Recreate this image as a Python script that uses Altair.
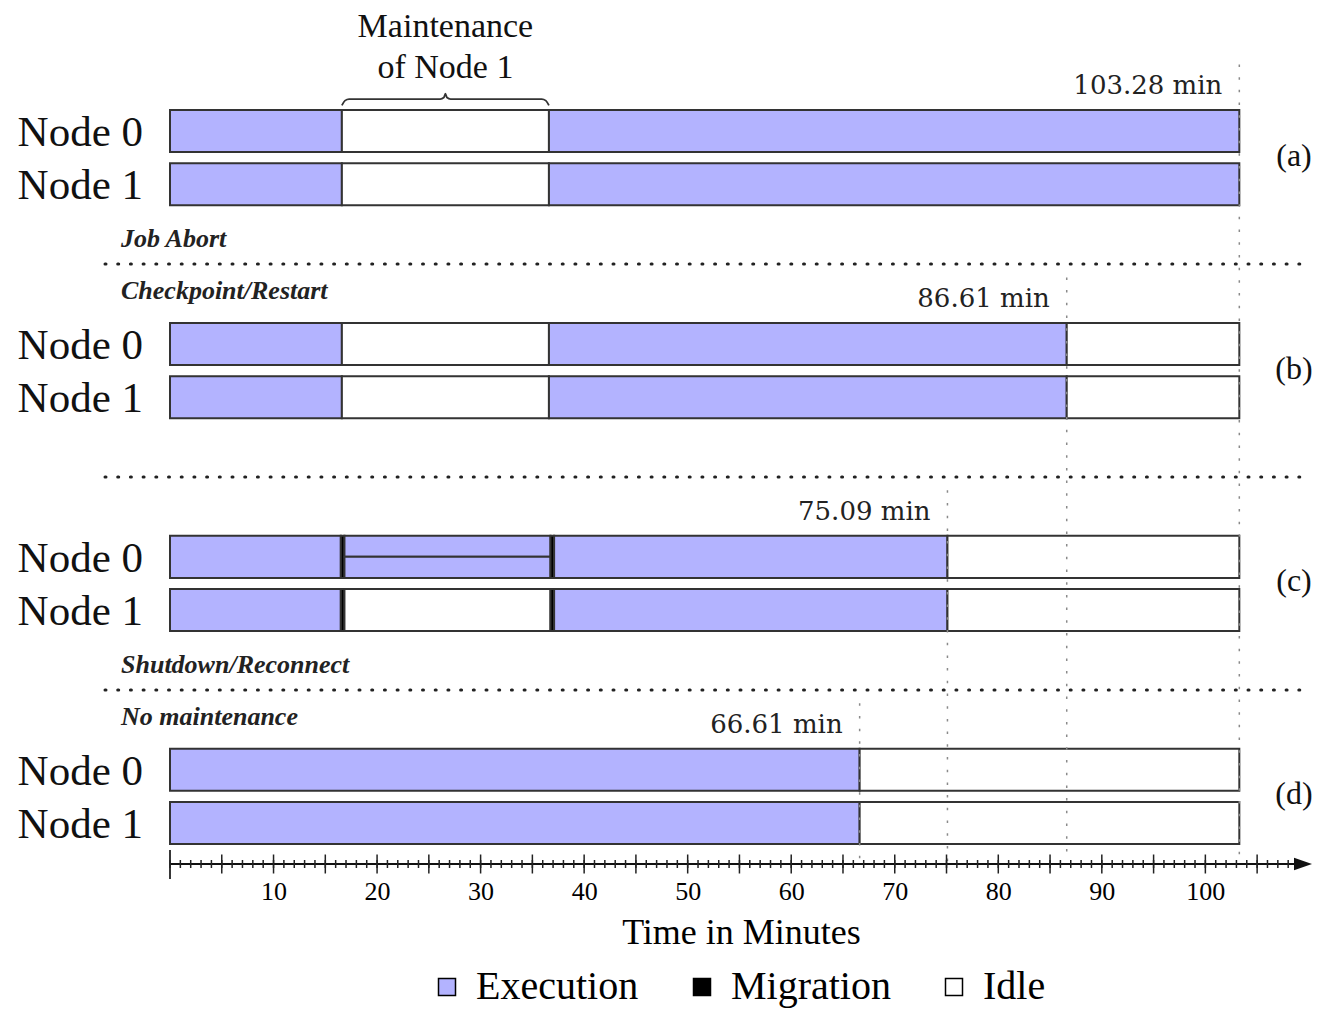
import altair as alt
import pandas as pd

# ---------------- data ----------------
panels = ["(a)", "(b)", "(c)", "(d)"]
methods = ["Job Abort", "Checkpoint/Restart", "Shutdown/Reconnect", "No maintenance"]
method_side = ["below", "above", "below", "above"]
totals = [103.28, 86.61, 75.09, 66.61]
total_labels = ["103.28 min", "86.61 min", "75.09 min", "66.61 min"]
nodes = ["Node 0", "Node 1"]
maint_start = 16.6
maint_end = 36.6
maint_text = ["Maintenance", "of Node 1"]
states = ["Execution", "Migration", "Idle"]
state_colors = ["#b3b3ff", "#000000", "#ffffff"]
x_labels = [10, 20, 30, 40, 50, 60, 70, 80, 90, 100]
x_max = 110.3
minor_ticks = list(range(0, 109))
major_ticks = list(range(5, 109, 5))

seg_a0 = [(0, 16.6, "Execution", "full"), (16.6, 36.6, "Idle", "full"), (36.6, 103.28, "Execution", "full")]
seg_a1 = [(0, 16.6, "Execution", "full"), (16.6, 36.6, "Idle", "full"), (36.6, 103.28, "Execution", "full")]
seg_b0 = [(0, 16.6, "Execution", "full"), (16.6, 36.6, "Idle", "full"), (36.6, 86.61, "Execution", "full"), (86.61, 103.28, "Idle", "full")]
seg_b1 = [(0, 16.6, "Execution", "full"), (16.6, 36.6, "Idle", "full"), (36.6, 86.61, "Execution", "full"), (86.61, 103.28, "Idle", "full")]
seg_c0 = [(0, 16.5, "Execution", "full"), (16.5, 16.85, "Migration", "full"), (16.85, 36.75, "Execution", "top"),
          (16.85, 36.75, "Execution", "bottom"), (36.75, 37.1, "Migration", "full"), (37.1, 75.09, "Execution", "full"),
          (75.09, 103.28, "Idle", "full")]
seg_c1 = [(0, 16.5, "Execution", "full"), (16.5, 16.85, "Migration", "full"), (16.85, 36.75, "Idle", "full"),
          (36.75, 37.1, "Migration", "full"), (37.1, 75.09, "Execution", "full"), (75.09, 103.28, "Idle", "full")]
seg_d0 = [(0, 66.61, "Execution", "full"), (66.61, 103.28, "Idle", "full")]
seg_d1 = [(0, 66.61, "Execution", "full"), (66.61, 103.28, "Idle", "full")]
segments = [[seg_a0, seg_a1], [seg_b0, seg_b1], [seg_c0, seg_c1], [seg_d0, seg_d1]]

# ---------------- layout (row slots) ----------------
SLOTS = 4          # rows per panel (2 nodes + gap)
HALF = 0.395       # half bar height in slot units
Y_TOP = -2.2356
AXIS_SLOT = 13.77
W, H = 1142, 852

rows = []
for p, pan in enumerate(segments):
    for n, segs in enumerate(pan):
        slot = p * SLOTS + n
        for (s, e, st, part) in segs:
            y0 = slot - HALF if part in ("full", "top") else slot
            y1 = slot + HALF if part in ("full", "bottom") else slot
            rows.append(dict(start=s, end=e, state=st, y0=y0, y1=y1))
bars_df = pd.DataFrame(rows)

node_df = pd.DataFrame([dict(label=nodes[n], slot=p * SLOTS + n) for p in range(4) for n in range(2)])
panel_df = pd.DataFrame([dict(label=panels[p], slot=p * SLOTS + 0.5) for p in range(4)])
tot_df = pd.DataFrame([dict(t=totals[p], label=total_labels[p], ylab=p * SLOTS - 0.85,
                            ytop=p * SLOTS - 1.25) for p in range(4)])
sep_df = pd.DataFrame([dict(y=p * SLOTS + 2.5) for p in range(3)])
meth_df = pd.DataFrame([dict(label=methods[p],
                             y=(p * SLOTS + 1 + 1.035) if method_side[p] == "below" else (p * SLOTS - 1.0))
                        for p in range(4)])
mid = (maint_start + maint_end) / 2
brace_df = pd.DataFrame(dict(
    x=[maint_start, maint_start + 0.3, maint_start + 0.7, mid - 0.5, mid - 0.15, mid, mid + 0.15, mid + 0.5,
       maint_end - 0.7, maint_end - 0.3, maint_end],
    y=[-0.48, -0.57, -0.6, -0.6, -0.63, -0.7, -0.63, -0.6, -0.6, -0.57, -0.48], o=list(range(11))))
mtext_df = pd.DataFrame(dict(x=[mid, mid], y=[-1.95, -1.18], label=maint_text))
minor_df = pd.DataFrame(dict(x=minor_ticks))
major_df = pd.DataFrame(dict(x=major_ticks))
zero_df = pd.DataFrame(dict(x=[0]))

SERIF = "Liberation Serif"
xscale = alt.Scale(domain=[0, x_max], nice=False, zero=False)
yscale = alt.Scale(domain=[Y_TOP, AXIS_SLOT], reverse=True, nice=False, zero=False)

bars = alt.Chart(bars_df).mark_bar(stroke="#333333", strokeWidth=2).encode(
    x=alt.X("start:Q", scale=xscale, axis=alt.Axis(
        values=x_labels, domain=False, ticks=False, grid=False, tickSize=0,
        labelFont=SERIF, labelFontSize=26, labelColor="black", labelPadding=14, labelFlush=False,
        title="Time in Minutes", titleFont=SERIF, titleFontSize=36, titleFontWeight="normal",
        titleColor="black", titlePadding=11)),
    x2="end:Q",
    y=alt.Y("y0:Q", scale=yscale, axis=None),
    y2="y1:Q",
    color=alt.Color("state:N", scale=alt.Scale(domain=states, range=state_colors), legend=alt.Legend(
        orient="none", legendX=257, legendY=955, direction="horizontal", columns=3, title=None,
        symbolType="square", symbolSize=289, symbolStrokeColor="black", symbolStrokeWidth=1.5,
        symbolOpacity=1, labelFont=SERIF, labelFontSize=40, labelColor="black", labelOffset=9,
        columnPadding=43, labelLimit=400)),
)

vlines = alt.Chart(tot_df).mark_rule(color="#8a8a8a", strokeWidth=1.5, strokeDash=[2.5, 10.2]).encode(
    x=alt.X("t:Q", scale=xscale), y=alt.Y("ytop:Q", scale=yscale), y2=alt.value(H - 3))
tlabels = alt.Chart(tot_df).mark_text(font="DejaVu Serif", fontSize=26, align="right", baseline="middle",
                                      dx=-17, color="#222").encode(
    x=alt.X("t:Q", scale=xscale), y=alt.Y("ylab:Q", scale=yscale), text="label:N")

seps = alt.Chart(sep_df).mark_rule(color="#222", strokeWidth=3, strokeDash=[1, 11.7], strokeCap="round").encode(
    x=alt.value(-65), x2=alt.value(1130), y=alt.Y("y:Q", scale=yscale))
meth = alt.Chart(meth_df).mark_text(font=SERIF, fontSize=26, fontStyle="italic", fontWeight="bold",
                                    align="left", baseline="middle", color="#222").encode(
    x=alt.value(-49), y=alt.Y("y:Q", scale=yscale), text="label:N")

nlab = alt.Chart(node_df).mark_text(font=SERIF, fontSize=43, align="right", baseline="middle",
                                    dy=2, color="#111").encode(
    x=alt.value(-27), y=alt.Y("slot:Q", scale=yscale), text="label:N")
plab = alt.Chart(panel_df).mark_text(font=SERIF, fontSize=32, align="center", baseline="middle",
                                     dy=-2, color="#111").encode(
    x=alt.value(1124), y=alt.Y("slot:Q", scale=yscale), text="label:N")

brace = alt.Chart(brace_df).mark_line(color="#333", strokeWidth=1.8, interpolate="monotone").encode(
    x=alt.X("x:Q", scale=xscale), y=alt.Y("y:Q", scale=yscale), order="o:Q")
mtext = alt.Chart(mtext_df).mark_text(font=SERIF, fontSize=34, align="center", baseline="middle",
                                      color="#111").encode(
    x=alt.X("x:Q", scale=xscale), y=alt.Y("y:Q", scale=yscale), text="label:N")

axis_line = alt.Chart(zero_df).mark_rule(color="#111", strokeWidth=1.8).encode(
    x=alt.value(0), x2=alt.value(1126), y=alt.value(H))
arrow = alt.Chart(zero_df).mark_point(shape="M-1,-0.7L1,0L-1,0.7Z", filled=True, size=324, color="#111",
                                      opacity=1).encode(
    x=alt.value(1133), y=alt.value(H))
minor = alt.Chart(minor_df).mark_rule(color="#222", strokeWidth=1.5).encode(
    x=alt.X("x:Q", scale=xscale), y=alt.value(H - 4), y2=alt.value(H + 4))
major = alt.Chart(major_df).mark_rule(color="#222", strokeWidth=1.5).encode(
    x=alt.X("x:Q", scale=xscale), y=alt.value(H - 9.5), y2=alt.value(H + 9.5))
zero = alt.Chart(zero_df).mark_rule(color="#222", strokeWidth=1.8).encode(
    x=alt.X("x:Q", scale=xscale), y=alt.value(H - 14), y2=alt.value(H + 15))

chart = alt.layer(
    bars, vlines, tlabels, seps, meth, nlab, plab, brace, mtext, axis_line, arrow, minor, major, zero
).properties(
    width=W, height=H,
    autosize=alt.AutoSizeParams(type="none"),
    padding={"left": 162, "top": 4, "right": 1, "bottom": 146},
).configure_view(stroke=None)

chart.save("out.html", embed_options={"renderer": "svg", "actions": False})
